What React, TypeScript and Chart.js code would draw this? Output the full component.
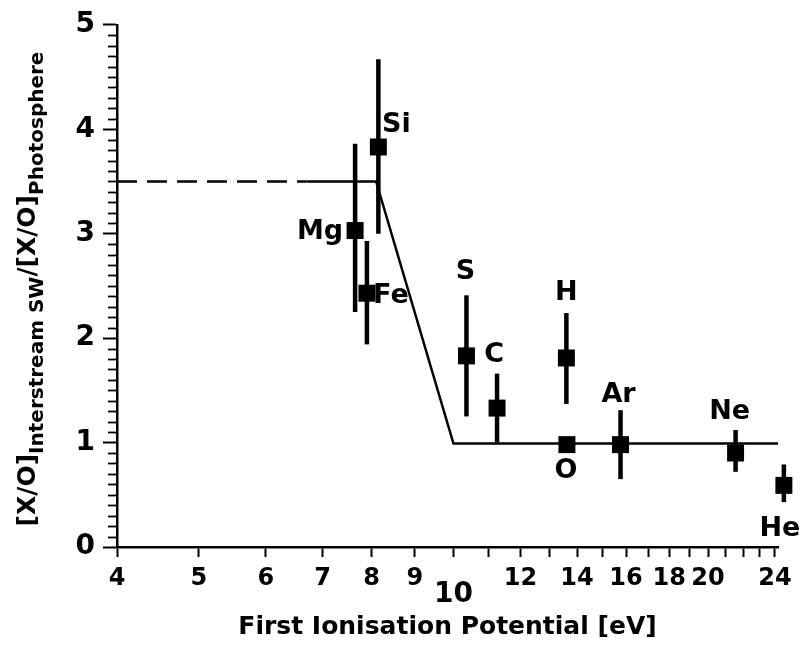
import React, { useEffect, useRef } from 'react';
import { Chart, registerables } from 'chart.js';

Chart.register(...registerables);

// ---- data ----
const elements = ['Mg', 'Fe', 'Si', 'S', 'C', 'H', 'O', 'Ar', 'Ne', 'He'];
const fip = [7.65, 7.9, 8.15, 10.36, 11.26, 13.6, 13.62, 15.76, 21.56, 24.59];
const ratio = [3.03, 2.43, 3.83, 1.83, 1.33, 1.81, 0.98, 0.98, 0.9, 0.59];
const errLow = [2.25, 1.94, 3.0, 1.25, 1.0, 1.37, 0.98, 0.65, 0.72, 0.43];
const errHigh = [3.86, 2.93, 4.67, 2.41, 1.66, 2.24, 0.98, 1.31, 1.12, 0.79];

const modelDashedX = [4, 6.7];
const modelDashedY = [3.5, 3.5];
const modelSolidX = [6.7, 8.1, 10, 24.2];
const modelSolidY = [3.5, 3.5, 0.99, 0.99];

const xTickValues = [4, 5, 6, 7, 8, 9, 10, 11, 12, 13, 14, 15, 16, 17, 18, 19, 20, 21, 22, 23, 24];
const xTickLabels = [4, 5, 6, 7, 8, 9, 10, 12, 14, 16, 18, 20, 24];
const yMin = 0;
const yMax = 5;
const yMinorPerMajor = 10;

// label placement relative to each point (pixels)
const labelOffsets: [number, number][] = [
  [-35, 1], [24, 3], [18, -22], [-1, -84], [-3, -53],
  [0, -65], [-1, 26], [-2, -50], [-6, -41], [-4, 44],
];

const FAMILY = '"DejaVu Sans", "Liberation Sans", sans-serif';

const errorBarPlugin = {
  id: 'errorBars',
  beforeDatasetsDraw(chart: any) {
    const { ctx, scales } = chart;
    const x = scales.x, y = scales.y;
    ctx.save();
    ctx.strokeStyle = '#000';
    ctx.lineWidth = 4.5;
    ctx.lineCap = 'butt';
    for (let i = 0; i < fip.length; i++) {
      if (errHigh[i] <= errLow[i]) continue;
      const px = x.getPixelForValue(fip[i]);
      ctx.beginPath();
      ctx.moveTo(px, y.getPixelForValue(errLow[i]));
      ctx.lineTo(px, y.getPixelForValue(errHigh[i]));
      ctx.stroke();
    }
    ctx.restore();
  },
};

const labelPlugin = {
  id: 'elementLabels',
  afterDatasetsDraw(chart: any) {
    const { ctx, scales } = chart;
    const x = scales.x, y = scales.y;
    ctx.save();
    ctx.fillStyle = '#000';
    ctx.font = `bold 27px ${FAMILY}`;
    ctx.textAlign = 'center';
    ctx.textBaseline = 'middle';
    for (let i = 0; i < elements.length; i++) {
      const px = x.getPixelForValue(fip[i]) + labelOffsets[i][0];
      const py = y.getPixelForValue(ratio[i]) + labelOffsets[i][1];
      ctx.fillText(elements[i], px, py);
    }
    ctx.restore();
  },
};

const minorTickPlugin = {
  id: 'yMinorTicks',
  afterDraw(chart: any) {
    const { ctx, scales, chartArea } = chart;
    const y = scales.y;
    ctx.save();
    ctx.strokeStyle = '#000';
    ctx.lineWidth = 1.8;
    const n = (yMax - yMin) * yMinorPerMajor;
    for (let k = 0; k <= n; k++) {
      if (k % yMinorPerMajor === 0) continue;
      const v = yMin + k / yMinorPerMajor;
      const py = Math.round(y.getPixelForValue(v)) + 0.5;
      ctx.beginPath();
      ctx.moveTo(chartArea.left - 9, py);
      ctx.lineTo(chartArea.left, py);
      ctx.stroke();
    }
    ctx.restore();
  },
};

const yTitlePlugin = {
  id: 'yTitle',
  afterDraw(chart: any) {
    const { ctx } = chart;
    const mainFont = `bold 25px ${FAMILY}`;
    const subFont = `bold 20px ${FAMILY}`;
    const segs: [string, boolean][] = [
      ['[X/O]', false],
      ['Interstream SW', true],
      ['/', false],
      ['[X/O]', false],
      ['Photosphere', true],
    ];
    ctx.save();
    let total = 0;
    const widths: number[] = [];
    for (const [t, sub] of segs) {
      ctx.font = sub ? subFont : mainFont;
      const w = ctx.measureText(t).width;
      widths.push(w);
      total += w;
    }
    ctx.translate(35, 289);
    ctx.rotate(-Math.PI / 2);
    ctx.fillStyle = '#000';
    ctx.textAlign = 'left';
    ctx.textBaseline = 'alphabetic';
    let cx = -total / 2;
    segs.forEach(([t, sub], i) => {
      ctx.font = sub ? subFont : mainFont;
      ctx.fillText(t, cx, sub ? 8 : 0);
      cx += widths[i];
    });
    ctx.restore();
  },
};

export default function App() {
  const ref = useRef<HTMLCanvasElement | null>(null);

  useEffect(() => {
    if (!ref.current) return;
    const chart = new Chart(ref.current, {
      type: 'scatter',
      data: {
        datasets: [
          {
            label: 'model dashed',
            data: modelDashedX.map((x, i) => ({ x, y: modelDashedY[i] })),
            showLine: true,
            borderColor: '#000',
            borderWidth: 2.5,
            borderDash: [20, 10],
            pointRadius: 0,
            fill: false,
            tension: 0,
          } as any,
          {
            label: 'model',
            data: modelSolidX.map((x, i) => ({ x, y: modelSolidY[i] })),
            showLine: true,
            borderColor: '#000',
            borderWidth: 2.5,
            pointRadius: 0,
            fill: false,
            tension: 0,
            clip: false,
          } as any,
          {
            label: 'abundance ratio',
            data: fip.map((x, i) => ({ x, y: ratio[i] })),
            pointStyle: 'rect',
            pointRadius: 12,
            backgroundColor: '#000',
            borderColor: '#000',
            borderWidth: 0,
            clip: false,
          } as any,
        ],
      },
      options: {
        responsive: false,
        animation: false,
        devicePixelRatio: 1,
        events: [],
        layout: { padding: { top: 23, right: 25, left: 0, bottom: 0 } },
        plugins: {
          legend: { display: false },
          tooltip: { enabled: false },
        },
        scales: {
          x: {
            type: 'logarithmic',
            min: 4,
            max: 24.2,
            afterBuildTicks: (s: any) => {
              s.ticks = xTickValues.map((v) => ({ value: v }));
            },
            afterFit: (s: any) => {
              s.height = 101;
            },
            ticks: {
              autoSkip: false,
              maxRotation: 0,
              minRotation: 0,
              padding: 7,
              color: '#000',
              font: (c: any) =>
                c.tick && c.tick.value === 10
                  ? { family: FAMILY, weight: 'bold', size: 28, lineHeight: 0.72 }
                  : { family: FAMILY, weight: 'bold', size: 24 },
              callback: (v: any) => {
                const n = Number(v);
                if (n === 10) return ['', '10'];
                return xTickLabels.includes(n) ? String(n) : '';
              },
            },
            grid: {
              drawOnChartArea: false,
              drawTicks: true,
              tickLength: 10,
              tickWidth: 2,
              tickColor: '#000',
            },
            border: { display: true, color: '#000', width: 2.5 },
            title: {
              display: true,
              text: 'First Ionisation Potential [eV]',
              color: '#000',
              font: { family: FAMILY, weight: 'bold', size: 25 },
              padding: { top: 0, bottom: 6 },
            },
          } as any,
          y: {
            type: 'linear',
            min: yMin,
            max: yMax,
            afterFit: (s: any) => {
              s.width = 117;
            },
            ticks: {
              stepSize: 1,
              padding: 8,
              color: '#000',
              font: { family: FAMILY, weight: 'bold', size: 28 },
            },
            grid: {
              drawOnChartArea: false,
              drawTicks: true,
              tickLength: 14,
              tickWidth: 2,
              tickColor: '#000',
            },
            border: { display: true, color: '#000', width: 2.5 },
          } as any,
        },
      },
      plugins: [errorBarPlugin, labelPlugin, minorTickPlugin, yTitlePlugin],
    } as any);
    return () => chart.destroy();
  }, []);

  return (
    <div style={{ position: 'absolute', left: 0, top: 0, width: 803, height: 648, background: '#fff' }}>
      <canvas ref={ref} width={803} height={648} />
    </div>
  );
}
